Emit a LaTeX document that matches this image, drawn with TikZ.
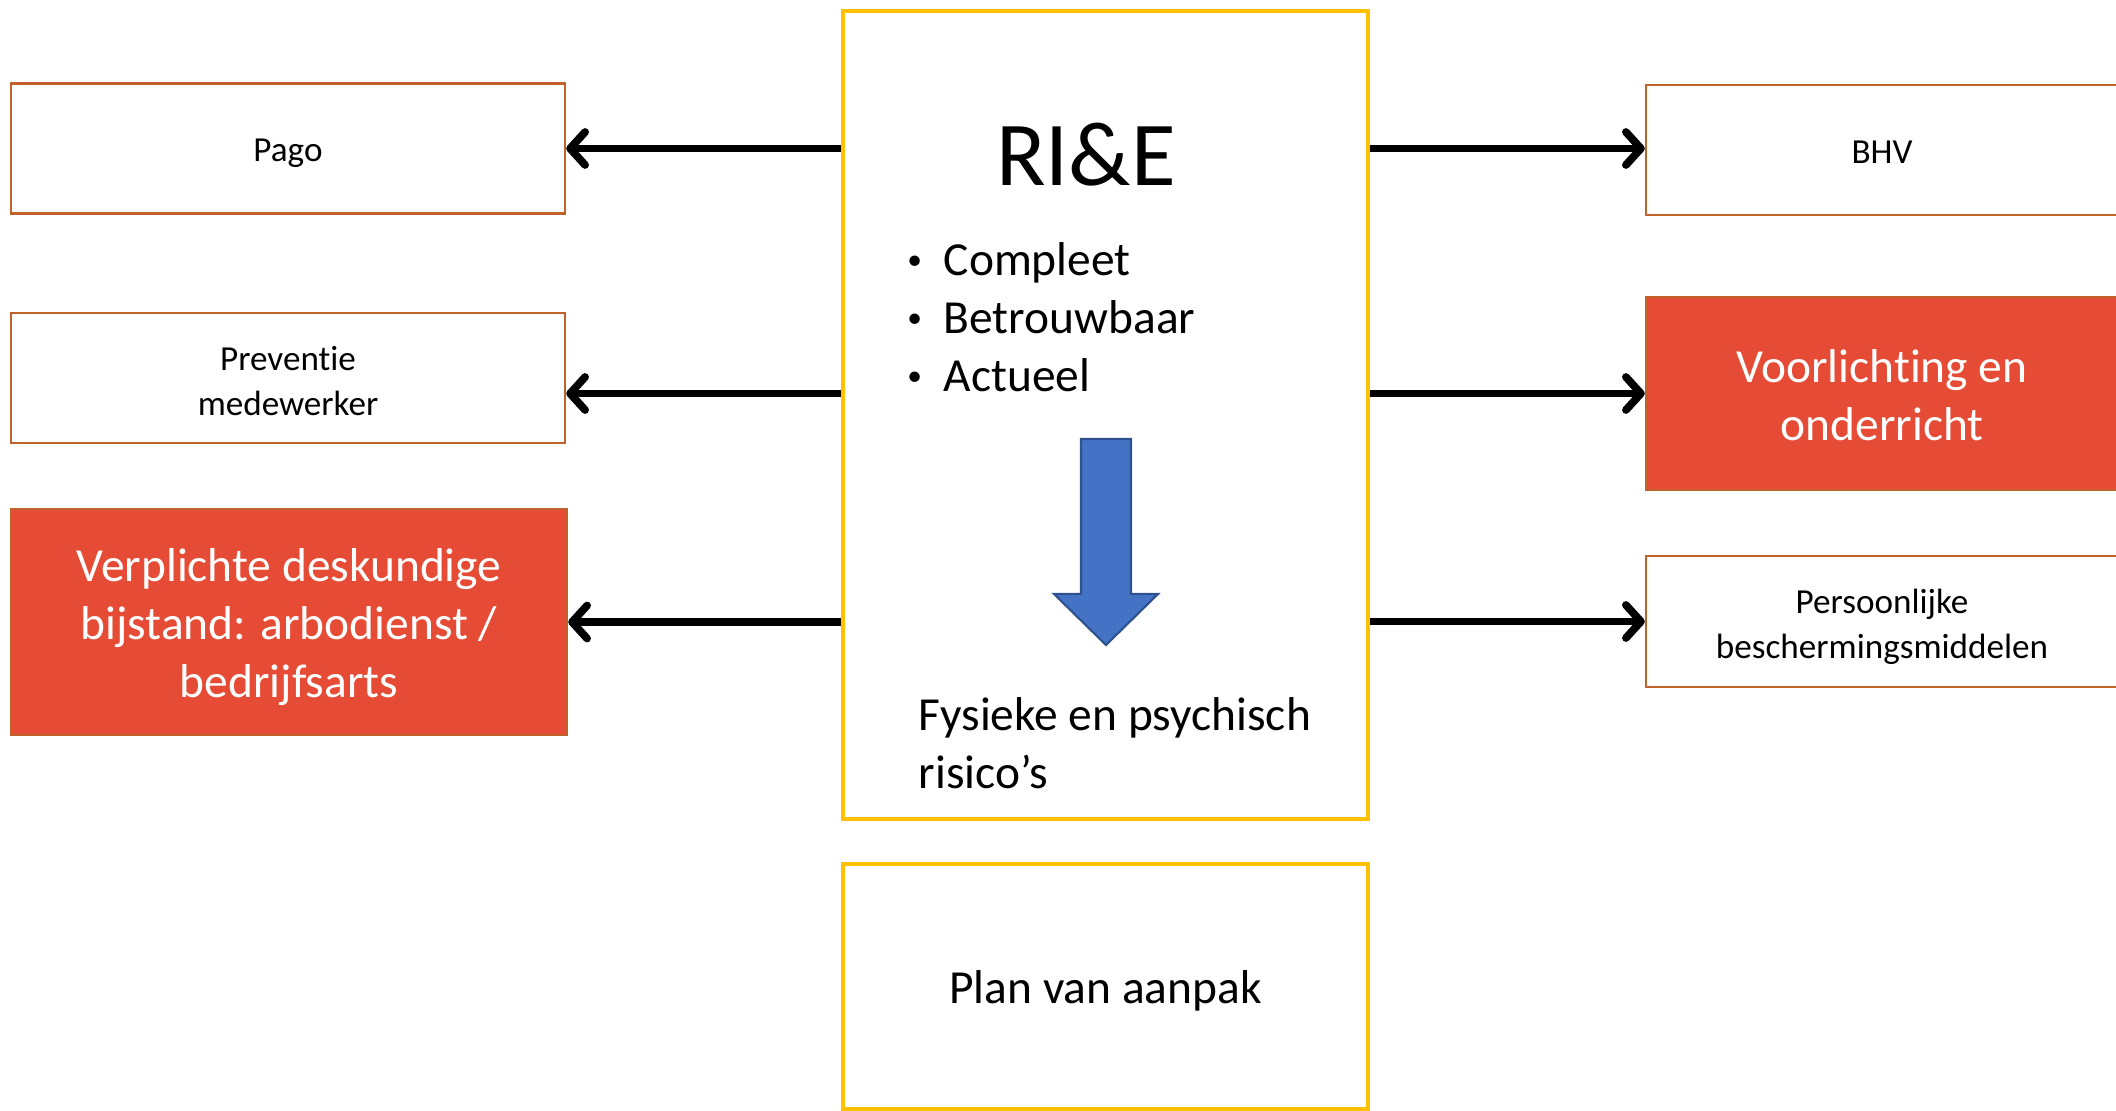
\documentclass[tikz,border=0pt]{standalone}
\usepackage{fontspec}
\setmainfont{Carlito}[Ligatures=NoCommon]
\usetikzlibrary{arrows.meta,positioning}
\definecolor{rieyellow}{HTML}{FFC000}
\definecolor{boxbrown}{HTML}{C0622A}
\definecolor{boxred}{HTML}{E64B35}
\definecolor{arrowblue}{HTML}{4472C4}
\definecolor{arrowblueline}{HTML}{2F528F}
\newcommand{\smalltxt}{\fontsize{10}{12.7}\selectfont}
\newcommand{\bigtxt}{\fontsize{13.5}{16.5}\selectfont}
\newcommand{\dotitem}{\llap{\makebox[0.58cm][c]{\raisebox{0.12em}{\scalebox{0.62}{\textbullet}}}}}
\newcommand{\linestrut}{\rule[-0.22em]{0pt}{\dimexpr1.12em+0.75pt\relax}}
\newcommand{\firstline}{\rule{0pt}{\dimexpr0.72em+3.4pt\relax}}
\tikzset{
  sidebox/.style={draw=boxbrown, line width=0.7pt, fill=white, align=center, font=\smalltxt,
    minimum width=5.54cm, minimum height=1.3cm, inner sep=0pt,
    execute at begin node=\linestrut, execute at end node=\linestrut},
  redbox/.style={sidebox, fill=boxred, text=white, font=\bigtxt},
  mainbox/.style={draw=rieyellow, line width=1.3pt, minimum width=5.25cm, inner sep=0pt},
  link/.style={line width=2.2pt, -{Straight Barb[length=1.5mm,width=3.3mm,round]}}
}

\begin{document}
\begin{tikzpicture}
  \useasboundingbox (0,0) rectangle (21.16,11.10);
  \clip (0,0) rectangle (21.16,11.10);

  % middle column
  \node[mainbox, minimum height=8.08cm] (rie) at (11.055,6.95) {};
  \node[mainbox, minimum height=2.45cm, font=\bigtxt,
    execute at begin node=\linestrut] (plan) at (11.055,1.235) {Plan van aanpak};

  \node[font=\fontsize{26}{30}\selectfont] (title) at (10.86,9.55) {RI\&E};
  \node[anchor=west, align=left, font=\bigtxt, inner sep=0pt] (crit) at (9.43,7.93)
    {\dotitem Compleet\\
     \dotitem Betrouwbaar\\
     \dotitem Actueel};
  \node[anchor=west, align=left, font=\bigtxt, inner sep=0pt] (risk) at (9.18,3.67)
    {Fysieke en psychisch\\risico’s};

  % blue block arrow
  \filldraw[fill=arrowblue, draw=arrowblueline, line width=0.6pt]
    (10.81,6.71) -- (11.31,6.71) -- (11.31,5.16) -- (11.58,5.16) -- (11.06,4.65)
    -- (10.54,5.16) -- (10.81,5.16) -- cycle;

  % left boxes
  \node[sidebox] (pago) at (2.88,9.615) {Pago};
  \node[sidebox] (prev) at (2.88,7.32) {\firstline Preventie\\medewerker};
  \node[redbox, minimum width=5.56cm, minimum height=2.26cm] (verpl) at (2.89,4.88)
    {\firstline Verplichte deskundige\\bijstand: arbodienst /\\bedrijfsarts};

  % right boxes
  \node[sidebox, minimum width=4.72cm] (bhv) at (18.82,9.60) {BHV};
  \node[redbox, minimum width=4.72cm, minimum height=1.93cm] (voorl) at (18.82,7.165)
    {\firstline Voorlichting en\\onderricht};
  \node[sidebox, minimum width=4.72cm, minimum height=1.31cm] (pbm) at (18.82,4.885)
    {\firstline Persoonlijke\\beschermingsmiddelen};

  % connectors
  \draw[link] (rie.west |- pago) -- (pago);
  \draw[link] (rie.west |- voorl) -- (prev.east |- voorl);
  \draw[link] (rie.west |- verpl) -- (verpl);
  \draw[link] (rie.east |- pago) -- (bhv.west |- pago);
  \draw[link] (rie.east |- voorl) -- (voorl);
  \draw[link] (rie.east |- pbm) -- (pbm);
\end{tikzpicture}
\end{document}
